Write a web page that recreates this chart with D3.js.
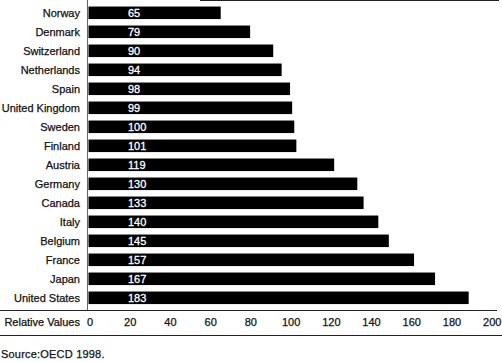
<!DOCTYPE html>
<html lang="en">
  <head>
    <meta charset="UTF-8" />
    <title>Relative Values by Country</title>
    <script src="https://d3js.org/d3.v7.min.js"></script>
    <style>
      body {
        margin: 0;
        padding: 0;
        background: #fff;
      }
      svg {
        display: block;
        font-family: "Liberation Sans", Arial, sans-serif;
      }
      .lbl {
        font-size: 11px;
        fill: #111;
        stroke: #111;
        stroke-width: 0.25px;
      }
      .val {
        font-size: 11px;
        fill: #fff;
        stroke: #fff;
        stroke-width: 0.3px;
      }
    </style>
  </head>
  <body>
    <svg width="502" height="362"></svg>
    <script>
      const countries = [
        "Norway", "Denmark", "Switzerland", "Netherlands", "Spain",
        "United Kingdom", "Sweden", "Finland", "Austria", "Germany",
        "Canada", "Italy", "Belgium", "France", "Japan", "United States",
      ];
      const values = [65, 79, 90, 94, 98, 99, 100, 101, 119, 130, 133, 140, 145, 157, 167, 183];
      const ticks = [0, 20, 40, 60, 80, 100, 120, 140, 160, 180, 200];
      const axisTitle = "Relative Values";
      const source = "Source:OECD 1998.";

      const width = 502;
      const svg = d3.select("svg");

      // tick labels sit on one scale, the bars were drawn a touch wider in the original
      const x = d3.scaleLinear().domain([0, 200]).range([89.5, 491.7]);
      const xBar = d3.scaleLinear().domain([0, 200]).range([84.1, 504.4]);
      const barLeft = 88.5;

      const y = d3
        .scaleBand()
        .domain(countries)
        .range([3.3, 307.3])
        .paddingInner(0.34)
        .paddingOuter(0.17);

      const rows = countries.map((c, i) => ({ name: c, value: values[i] }));

      // frame lines
      svg.append("line")
        .attr("x1", 200).attr("x2", 499)
        .attr("y1", 0.5).attr("y2", 0.5)
        .attr("stroke", "#222");
      svg.append("line")
        .attr("x1", 87.5).attr("x2", 87.5)
        .attr("y1", 0).attr("y2", 310)
        .attr("stroke", "#666");
      svg.append("line")
        .attr("x1", 0).attr("x2", 497)
        .attr("y1", 310.5).attr("y2", 310.5)
        .attr("stroke", "#222");
      svg.append("line")
        .attr("x1", 0).attr("x2", width)
        .attr("y1", 335.5).attr("y2", 335.5)
        .attr("stroke", "#222");

      svg.append("g")
        .selectAll("rect")
        .data(rows)
        .join("rect")
        .attr("x", barLeft)
        .attr("y", (d) => y(d.name))
        .attr("width", (d) => xBar(d.value) - barLeft)
        .attr("height", y.bandwidth())
        .attr("fill", "#000");

      svg.append("g")
        .selectAll("text")
        .data(rows)
        .join("text")
        .attr("class", "val")
        .attr("x", 128)
        .attr("y", (d) => y(d.name) + y.bandwidth() / 2)
        .attr("dy", "0.35em")
        .text((d) => d.value);

      svg.append("g")
        .selectAll("text")
        .data(rows)
        .join("text")
        .attr("class", "lbl")
        .attr("x", 80)
        .attr("y", (d) => y(d.name) + y.bandwidth() / 2)
        .attr("dy", "0.35em")
        .attr("text-anchor", "end")
        .text((d) => d.name);

      const axis = d3
        .axisBottom(x)
        .tickValues(ticks)
        .tickSize(0)
        .tickPadding(0);

      const axisG = svg.append("g").attr("transform", "translate(0,322)").call(axis);
      axisG.select(".domain").remove();
      axisG.attr("font-family", null).attr("font-size", null);
      axisG.selectAll("text")
        .attr("class", "lbl")
        .attr("dy", "0.35em")
        .attr("y", 0)
        .attr("fill", null);

      svg.append("text")
        .attr("class", "lbl")
        .attr("x", 80)
        .attr("y", 322)
        .attr("dy", "0.35em")
        .attr("text-anchor", "end")
        .text(axisTitle);

      svg.append("text")
        .attr("class", "lbl")
        .attr("x", 1)
        .attr("y", 354)
        .attr("dy", "0.35em")
        .attr("letter-spacing", 0.2)
        .text(source);
    </script>
  </body>
</html>
